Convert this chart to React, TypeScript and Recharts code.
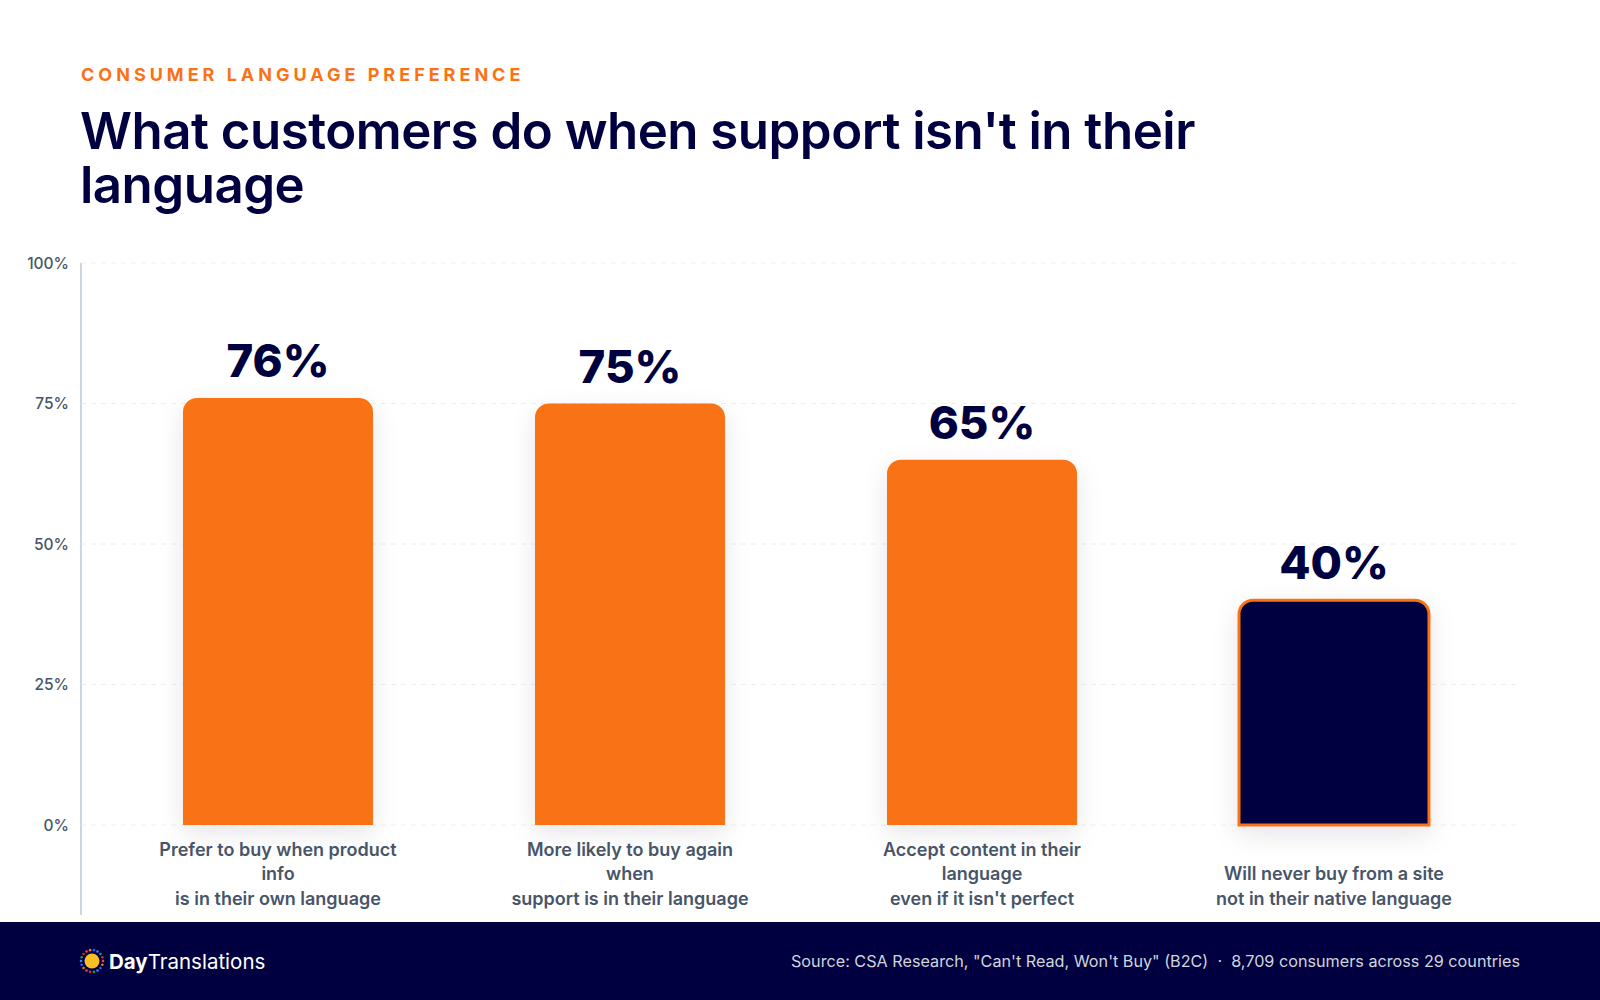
import React from "react";
import {
  BarChart,
  Bar,
  XAxis,
  YAxis,
  CartesianGrid,
  LabelList,
  Cell,
} from "recharts";

// Categories (each label already broken into its display lines)
const categoryLines = [
  ["Prefer to buy when product", "info", "is in their own language"],
  ["More likely to buy again", "when", "support is in their language"],
  ["Accept content in their", "language", "even if it isn't perfect"],
  ["Will never buy from a site", "not in their native language"],
];

const shareValues = [76, 75, 65, 40];
const highlighted = [false, false, false, true];
const yTicks = [0, 25, 50, 75, 100];

const ORANGE = "#f97316";
const NAVY = "#000040";
const SLATE = "#475569";
const FONT = "Inter, 'Noto Sans', sans-serif";

const data = categoryLines.map((lines, i) => ({
  key: lines.join(" "),
  value: shareValues[i],
  dark: highlighted[i],
}));

// Multi-line x tick, lines stacked from the bottom so short labels sit low
const CategoryTick = (props: any) => {
  const { x, y, index } = props;
  const lines = categoryLines[index] || [];
  const lineH = 24.5;
  const lastY = y + 67;
  return (
    <g>
      {lines.map((l, i) => (
        <text
          key={i}
          x={x}
          y={lastY - (lines.length - 1 - i) * lineH}
          textAnchor="middle"
          dominantBaseline="middle"
          fill={SLATE}
          fontSize={18}
          fontWeight={600}
          fontFamily={FONT}
        >
          {l}
        </text>
      ))}
    </g>
  );
};

const Logo = () => {
  const dots = Array.from({ length: 18 }, (_, i) => i);
  const colors = ["#ef4444", "#f97316", "#2563eb", "#3b82f6", "#16a34a", "#dc2626"];
  return (
    <svg width={28} height={28} viewBox="-14 -14 28 28">
      {dots.map((i) => {
        const a = (i / dots.length) * Math.PI * 2;
        return (
          <circle
            key={i}
            cx={Math.cos(a) * 11}
            cy={Math.sin(a) * 11}
            r={1.3}
            fill={colors[i % colors.length]}
          />
        );
      })}
      <circle cx={0} cy={0} r={7.5} fill="#fbbf24" />
    </svg>
  );
};

export default function App() {
  return (
    <div
      style={{
        position: "absolute",
        left: 0,
        top: 0,
        width: 1600,
        height: 1000,
        background: "#ffffff",
        fontFamily: FONT,
        overflow: "hidden",
      }}
    >
      {/* Eyebrow + title */}
      <div
        style={{
          position: "absolute",
          left: 81,
          top: 64,
          color: ORANGE,
          fontSize: 18,
          fontWeight: 700,
          letterSpacing: "4px",
        }}
      >
        CONSUMER LANGUAGE PREFERENCE
      </div>
      <div
        style={{
          position: "absolute",
          left: 80,
          top: 104,
          width: 1180,
          color: NAVY,
          fontSize: 51,
          fontWeight: 600,
          lineHeight: "54px",
          letterSpacing: "-0.01em",
        }}
      >
        What customers do when support isn't in their language
      </div>

      {/* Y axis rule running down to the footer */}
      <div
        style={{
          position: "absolute",
          left: 80,
          top: 263,
          width: 2,
          height: 652,
          background: "#cbd5e1",
        }}
      />

      <div style={{ position: "absolute", left: 0, top: 0 }}>
        <BarChart
          width={1600}
          height={922}
          data={data}
          margin={{ top: 263, right: 80, bottom: 7, left: 21 }}
          barSize={190}
        >
          <defs>
            <filter id="barShadow" x="-30%" y="-20%" width="160%" height="150%">
              <feDropShadow
                dx={0}
                dy={8}
                stdDeviation={12}
                floodColor="#0f172a"
                floodOpacity={0.1}
              />
            </filter>
          </defs>
          <CartesianGrid
            vertical={false}
            stroke="#eceef3"
            strokeDasharray="5 5"
          />
          <XAxis
            dataKey="key"
            axisLine={false}
            tickLine={false}
            interval={0}
            height={90}
            padding={{ left: 21, right: 10 }}
            tick={<CategoryTick />}
          />
          <YAxis
            domain={[0, 100]}
            ticks={yTicks}
            width={60}
            axisLine={false}
            tickLine={false}
            tickSize={0}
            tickMargin={12}
            tickFormatter={(v: number) => `${v}%`}
            tick={{ fill: SLATE, fontSize: 15.5, fontWeight: 500, fontFamily: FONT }}
          />
          <Bar
            dataKey="value"
            radius={[14, 14, 0, 0]}
            isAnimationActive={false}
            filter="url(#barShadow)"
          >
            {data.map((d, i) => (
              <Cell
                key={i}
                fill={d.dark ? NAVY : ORANGE}
                stroke={d.dark ? ORANGE : "none"}
                strokeWidth={d.dark ? 3 : 0}
              />
            ))}
            <LabelList
              dataKey="value"
              position="top"
              offset={21}
              formatter={(v: number) => `${v}%`}
              fill={NAVY}
              fontSize={45.5}
              fontWeight={800}
              fontFamily={FONT}
            />
          </Bar>
        </BarChart>
      </div>

      {/* Footer band */}
      <div
        style={{
          position: "absolute",
          left: 0,
          top: 922,
          width: 1600,
          height: 78,
          background: NAVY,
          display: "flex",
          alignItems: "center",
          justifyContent: "space-between",
          padding: "0 80px 0 78px",
          boxSizing: "border-box",
        }}
      >
        <div style={{ display: "flex", alignItems: "center", color: "#ffffff" }}>
          <Logo />
          <span style={{ fontSize: 20.5, fontWeight: 700, marginLeft: 3 }}>Day</span>
          <span style={{ fontSize: 20.5, fontWeight: 400 }}>Translations</span>
        </div>
        <div style={{ color: "#d1d5db", fontSize: 16.2 }}>
          Source: CSA Research, "Can't Read, Won't Buy" (B2C) &nbsp;·&nbsp; 8,709
          consumers across 29 countries
        </div>
      </div>
    </div>
  );
}
